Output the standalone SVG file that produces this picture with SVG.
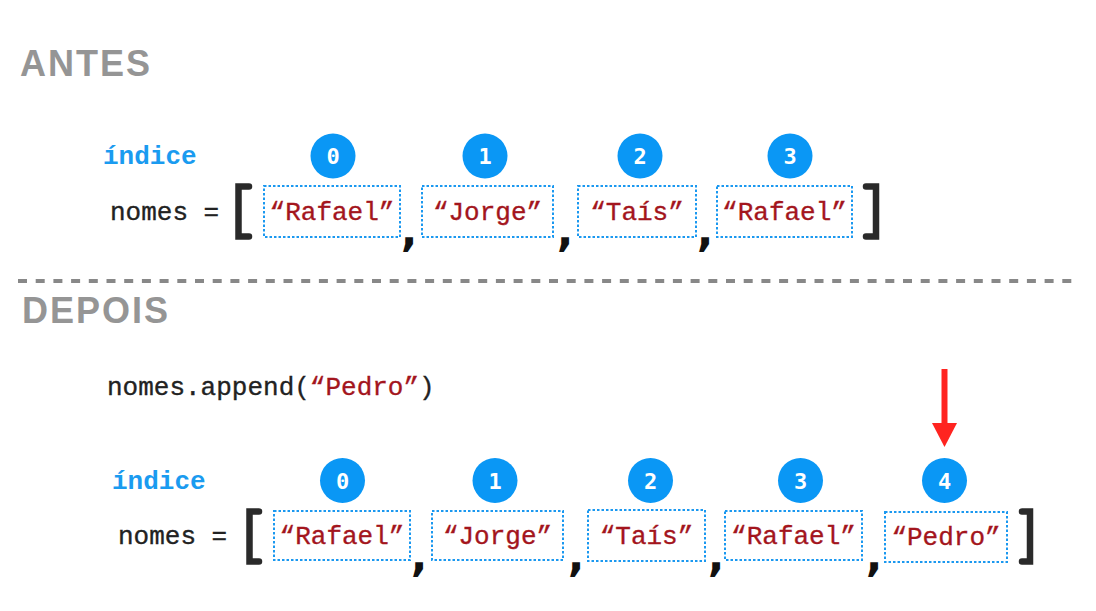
<svg xmlns="http://www.w3.org/2000/svg" width="1096" height="611" viewBox="0 0 1096 611">
<style>
.head{font-family:"Liberation Sans",Arial,sans-serif;font-weight:bold;font-size:36px;fill:#959595;letter-spacing:2px}
.code{font-family:"Liberation Mono","Courier New",monospace;font-size:26px;fill:#222222;stroke:#222222;stroke-width:0.35}
.str{font-family:"Liberation Mono","Courier New",monospace;font-size:26px;fill:#a3151d;stroke:#a3151d;stroke-width:0.35;text-anchor:middle}
.idx{font-family:"Liberation Mono","Courier New",monospace;font-size:26px;font-weight:bold;fill:#1a9bf0}
.circ{fill:#0a97f5}
.num{font-family:"DejaVu Sans Mono",monospace;font-weight:bold;font-size:22px;fill:#ffffff;text-anchor:middle}
.box{fill:none;stroke:#1a98f0;stroke-width:2;stroke-dasharray:2.5 2}
.br{fill:none;stroke:#2a2a2a;stroke-width:6.5;stroke-linecap:round;stroke-linejoin:miter}
.comma{font-family:"DejaVu Sans",sans-serif;font-weight:bold;font-size:44px;fill:#111111;text-anchor:middle}
</style>
<rect width="1096" height="611" fill="#ffffff"/>

<g id="antes">
<text class="head" x="20" y="76">ANTES</text>
<text class="idx" x="103" y="164">índice</text>
<g id="idx-top">
<circle class="circ" cx="333" cy="156" r="22.5"/><text class="num" x="333" y="164">0</text>
<circle class="circ" cx="485" cy="156" r="22.5"/><text class="num" x="485" y="164">1</text>
<circle class="circ" cx="640" cy="156" r="22.5"/><text class="num" x="640" y="164">2</text>
<circle class="circ" cx="790" cy="156" r="22.5"/><text class="num" x="790" y="164">3</text>
</g>
<text class="code" x="110" y="220">nomes =</text>
<path class="br" d="M249 186.5 H238.5 V236.5 H249"/>
<g id="top-e0"><rect class="box" x="264" y="186" width="136" height="51"/><text class="str" x="332" y="220">“Rafael”</text></g>
<text class="comma" x="409" y="246">,</text>
<g id="top-e1"><rect class="box" x="422" y="186" width="131" height="51"/><text class="str" x="487.5" y="220">“Jorge”</text></g>
<text class="comma" x="565" y="246">,</text>
<g id="top-e2"><rect class="box" x="578" y="186" width="118" height="51"/><text class="str" x="637" y="220">“Taís”</text></g>
<text class="comma" x="705" y="246">,</text>
<g id="top-e3"><rect class="box" x="717" y="186" width="135" height="51"/><text class="str" x="784.5" y="220">“Rafael”</text></g>
<path class="br" d="M866 186.5 H876 V236.5 H866"/>
</g>

<line x1="18" y1="281" x2="1076" y2="281" stroke="#888888" stroke-width="4" stroke-dasharray="9 8.7"/>

<g id="depois">
<text class="head" x="22" y="323">DEPOIS</text>
<text class="code" x="107" y="395">nomes.append(<tspan fill="#a3151d" stroke="#a3151d">“Pedro”</tspan>)</text>
<g id="arrow">
<line x1="944.5" y1="369" x2="944.5" y2="425" stroke="#ff2420" stroke-width="6"/>
<polygon points="932,423 957,423 944.5,447" fill="#ff2420"/>
</g>
<text class="idx" x="112" y="489">índice</text>
<g id="idx-bottom">
<circle class="circ" cx="342.5" cy="480.5" r="22.5"/><text class="num" x="342.5" y="488.5">0</text>
<circle class="circ" cx="495" cy="480.5" r="22.5"/><text class="num" x="495" y="488.5">1</text>
<circle class="circ" cx="650.5" cy="480.5" r="22.5"/><text class="num" x="650.5" y="488.5">2</text>
<circle class="circ" cx="800.5" cy="480.5" r="22.5"/><text class="num" x="800.5" y="488.5">3</text>
<circle class="circ" cx="944.5" cy="480.5" r="22.5"/><text class="num" x="944.5" y="488.5">4</text>
</g>
<text class="code" x="118" y="544">nomes =</text>
<path class="br" d="M259 511.5 H249.5 V561.5 H259"/>
<g id="bot-e0"><rect class="box" x="274" y="511" width="136" height="49"/><text class="str" x="342" y="544">“Rafael”</text></g>
<text class="comma" x="419" y="571">,</text>
<g id="bot-e1"><rect class="box" x="432" y="511" width="131" height="49"/><text class="str" x="497.5" y="544">“Jorge”</text></g>
<text class="comma" x="576" y="571">,</text>
<g id="bot-e2"><rect class="box" x="588" y="510" width="117" height="51"/><text class="str" x="646.5" y="544">“Taís”</text></g>
<text class="comma" x="716" y="571">,</text>
<g id="bot-e3"><rect class="box" x="725" y="511" width="137" height="49"/><text class="str" x="793.5" y="544">“Rafael”</text></g>
<text class="comma" x="874" y="571">,</text>
<g id="bot-e4"><rect class="box" x="885" y="512" width="122" height="50"/><text class="str" x="946" y="545">“Pedro”</text></g>
<path class="br" d="M1022 511.5 H1030 V561.5 H1022"/>
</g>
</svg>
